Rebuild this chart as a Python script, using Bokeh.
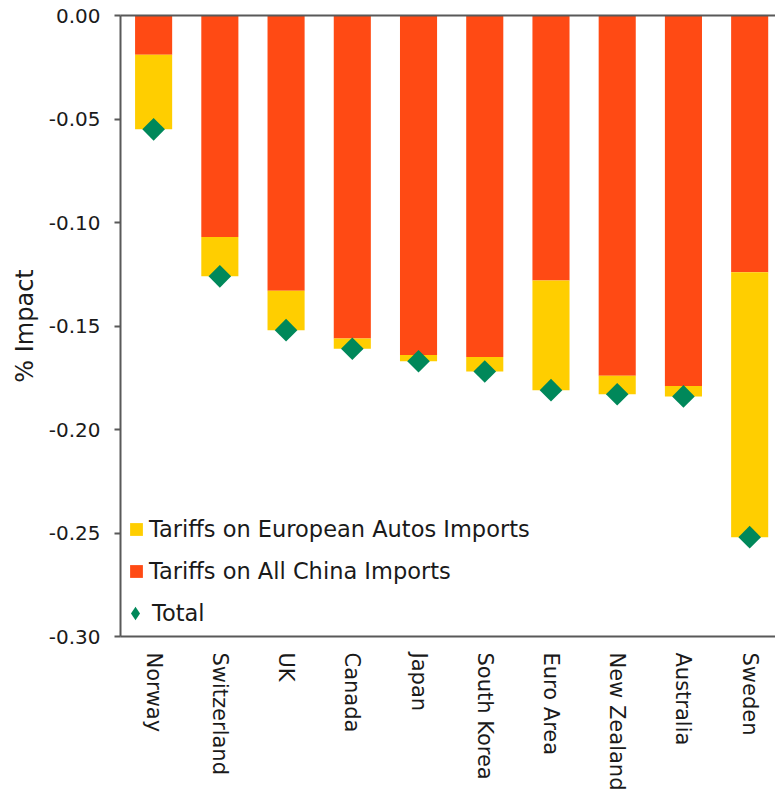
import math

from bokeh.embed import file_html
from bokeh.models import (ColumnDataSource, FixedTicker, Legend, LegendItem,
                          LinearAxis, NumeralTickFormatter, Range1d)
from bokeh.plotting import figure
from bokeh.resources import INLINE

# Estimated % impact on GDP by economy
countries = ["Norway", "Switzerland", "UK", "Canada", "Japan", "South Korea",
             "Euro Area", "New Zealand", "Australia", "Sweden"]
china_impact = [-0.019, -0.107, -0.133, -0.156, -0.164, -0.165, -0.128, -0.174, -0.179, -0.124]
autos_impact = [-0.036, -0.019, -0.019, -0.005, -0.003, -0.007, -0.053, -0.009, -0.005, -0.128]
y_ticks = [0.0, -0.05, -0.10, -0.15, -0.20, -0.25, -0.30]

RED = "#FF4A14"
YELLOW = "#FFCE00"
GREEN = "#00885A"
AXIS = "#595959"
TEXT = "#1a1a1a"

# one slot per economy, bar centred in its slot; the last slot runs past the right edge
slot = [i + 0.5 for i in range(len(countries))]
total_impact = [c + a for c, a in zip(china_impact, autos_impact)]
src = ColumnDataSource(dict(
    slot=slot,
    china=china_impact,
    autos_bottom=total_impact,
    total=total_impact,
    zero=[0.0] * len(countries),
))

p = figure(
    width=775, height=796,
    x_range=Range1d(0, 9.89),
    y_range=Range1d(-0.30, 0.0),
    output_backend="svg", toolbar_location=None,
    min_border_left=120, min_border_right=0,
    min_border_top=15, min_border_bottom=160,
)
p.outline_line_color = None
p.grid.visible = False
p.background_fill_color = "white"
p.border_fill_color = "white"

china_r = p.vbar(x="slot", top="zero", bottom="china", width=0.56,
                 source=src, fill_color=RED, line_color=None)
autos_r = p.vbar(x="slot", top="china", bottom="autos_bottom", width=0.56,
                 source=src, fill_color=YELLOW, line_color=None)
# small diamond key for the legend, sits underneath the total markers
total_key = p.scatter(x="slot", y="total", source=src, marker="diamond",
                      size=10, fill_color=GREEN, line_color=None)
total_r = p.scatter(x="slot", y="total", source=src, marker="square",
                    angle=math.pi / 4, size=16, fill_color=GREEN, line_color=None)

# zero line across the top, drawn as a bare axis line
zero_axis = LinearAxis(
    ticker=FixedTicker(ticks=[]),
    axis_line_color=AXIS, axis_line_width=2,
    major_tick_line_color=None, minor_tick_line_color=None,
    major_label_text_font_size="0px",
)
p.add_layout(zero_axis, "above")

# y axis
yax = p.yaxis[0]
yax.ticker = FixedTicker(ticks=y_ticks)
yax.formatter = NumeralTickFormatter(format="0.00")
yax.axis_label = "% Impact"
yax.axis_label_text_font = "DejaVu Sans"
yax.axis_label_text_font_size = "24px"
yax.axis_label_text_font_style = "normal"
yax.axis_label_text_color = TEXT
yax.axis_label_standoff = 7
yax.major_label_text_font = "DejaVu Sans"
yax.major_label_text_font_size = "20px"
yax.major_label_text_color = TEXT
yax.major_label_standoff = 14
yax.axis_line_color = AXIS
yax.axis_line_width = 2
yax.major_tick_line_color = AXIS
yax.major_tick_line_width = 2
yax.major_tick_out = 6
yax.major_tick_in = 0
yax.minor_tick_line_color = None

# x axis: economy names at the slot centres
xax = p.below[0]
xax.ticker = FixedTicker(ticks=slot)
xax.major_label_overrides = {s: name for s, name in zip(slot, countries)}
xax.major_label_orientation = -math.pi / 2
xax.major_label_text_font = "DejaVu Sans"
xax.major_label_text_font_size = "21px"
xax.major_label_text_color = TEXT
xax.major_label_standoff = 16
xax.axis_line_color = AXIS
xax.axis_line_width = 2
xax.major_tick_line_color = None
xax.major_tick_out = 0
xax.minor_tick_line_color = None

label_style = dict(
    background_fill_alpha=0,
    border_line_color=None,
    padding=0, margin=0,
    label_text_font="DejaVu Sans",
    label_text_font_size="22.5px",
    label_text_color=TEXT,
)

bar_legend = Legend(
    items=[
        LegendItem(label="Tariffs on European Autos Imports", renderers=[autos_r]),
        LegendItem(label="Tariffs on All China Imports", renderers=[china_r]),
    ],
    location=(8, 52),
    orientation="vertical",
    spacing=16,
    glyph_width=16, glyph_height=16,
    label_standoff=5,
    **label_style,
)
total_legend = Legend(
    items=[LegendItem(label="Total", renderers=[total_key])],
    location=(-2, 6),
    orientation="vertical",
    glyph_width=34, glyph_height=34,
    label_standoff=0,
    **label_style,
)
p.add_layout(bar_legend, "center")
p.add_layout(total_legend, "center")

open("out.html", "w").write(file_html(p, INLINE))
